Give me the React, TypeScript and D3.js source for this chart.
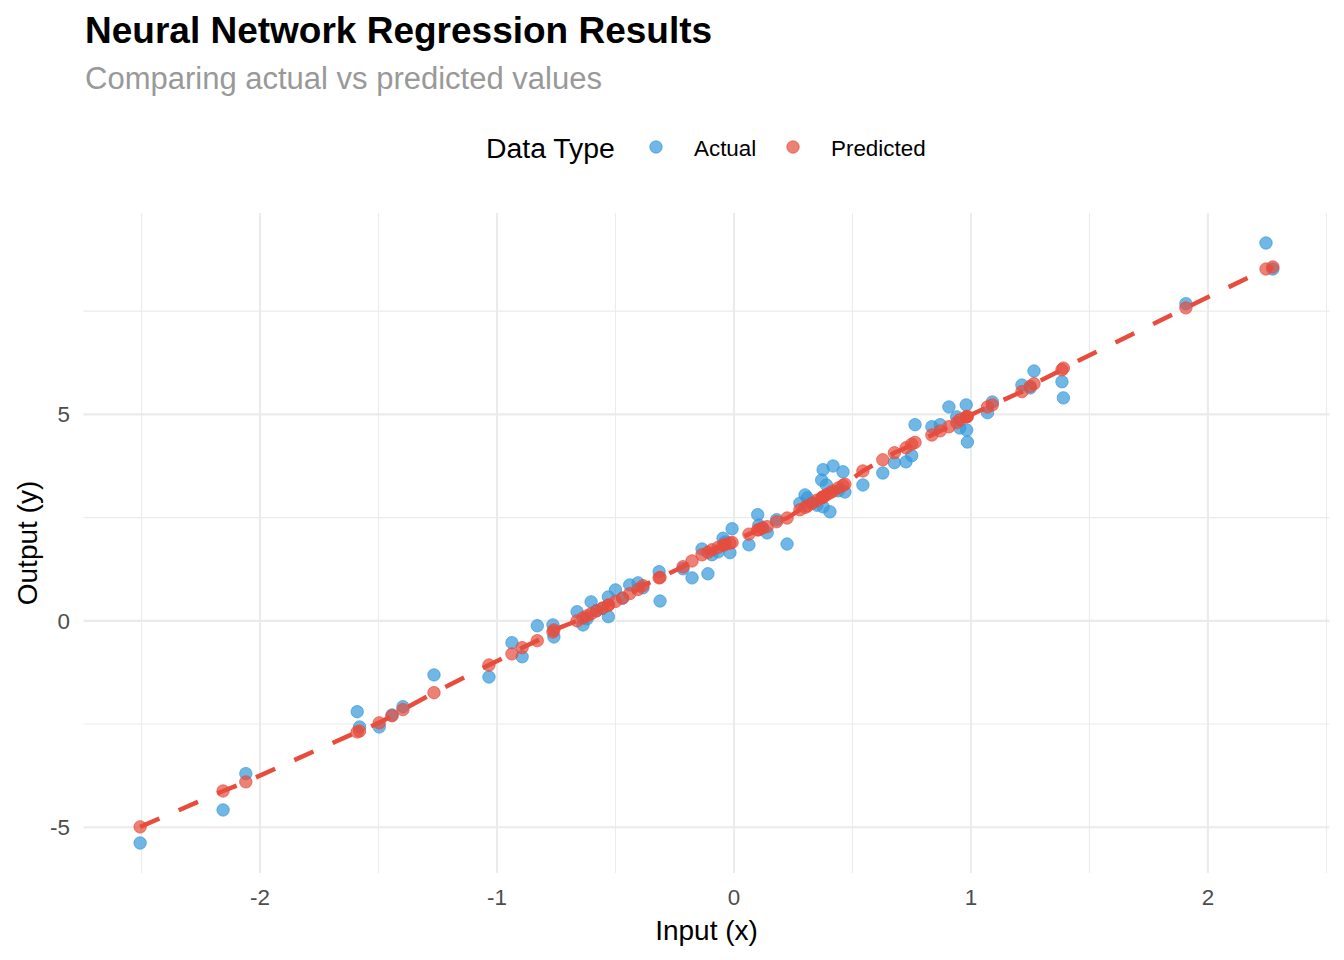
import React from 'react';
import * as d3 from 'd3';

// 入力値 (x)
const inputX = [
  -2.506, -2.156, -2.06, -1.59, -1.58, -1.497, -1.443, -1.397, -1.266, -1.034,
  -0.937, -0.894, -0.83, -0.764, -0.76, -0.662, -0.637, -0.62, -0.603, -0.58,
  -0.555, -0.53, -0.53, -0.5, -0.47, -0.44, -0.405, -0.384, -0.316, -0.312,
  -0.215, -0.177, -0.135, -0.11, -0.093, -0.067, -0.046, -0.038, -0.017, -0.008,
  0.063, 0.1, 0.105, 0.12, 0.14, 0.18, 0.224, 0.278, 0.3, 0.31,
  0.33, 0.35, 0.37, 0.376, 0.376, 0.39, 0.405, 0.418, 0.44, 0.46,
  0.468, 0.544, 0.628, 0.677, 0.726, 0.75, 0.764, 0.835, 0.87, 0.907,
  0.94, 0.953, 0.98, 0.982, 0.985, 1.07, 1.09, 1.215, 1.25, 1.266,
  1.384, 1.39, 1.907, 2.245, 2.274,
];

// 実測値
const actualY = [
  -5.38, -4.58, -3.7, -2.2, -2.57, -2.57, -2.28, -2.08, -1.31, -1.36,
  -0.53, -0.87, -0.12, -0.1, -0.39, 0.22, -0.1, 0.05, 0.46, 0.25,
  0.3, 0.58, 0.1, 0.75, 0.55, 0.87, 0.92, 0.8, 1.19, 0.48,
  1.26, 1.04, 1.74, 1.14, 1.6, 1.67, 2.0, 1.91, 1.65, 2.23,
  1.84, 2.57, 2.32, 2.25, 2.13, 2.45, 1.86, 2.85, 3.05, 2.98,
  2.85, 2.8, 3.41, 2.76, 3.66, 3.29, 2.64, 3.75, 3.15, 3.61,
  3.12, 3.29, 3.58, 3.83, 3.85, 4.0, 4.75, 4.7, 4.75, 5.18,
  4.94, 4.67, 5.23, 4.62, 4.33, 5.04, 5.3, 5.71, 5.64, 6.05,
  5.79, 5.4, 7.68, 9.15, 8.52,
];

// 予測値
const predictedY = [
  -4.99, -4.12, -3.9, -2.69, -2.67, -2.47, -2.3, -2.15, -1.74, -1.07,
  -0.8, -0.65, -0.48, -0.27, -0.22, 0.0, 0.07, 0.12, 0.17, 0.24,
  0.31, 0.38, 0.38, 0.47, 0.55, 0.66, 0.76, 0.85, 1.04, 1.05,
  1.31, 1.45, 1.6, 1.66, 1.72, 1.78, 1.83, 1.85, 1.88, 1.9,
  2.1, 2.2, 2.21, 2.25, 2.28, 2.4, 2.49, 2.69, 2.75, 2.78,
  2.85, 2.92, 2.98, 3.0, 3.0, 3.05, 3.1, 3.14, 3.22, 3.28,
  3.31, 3.63, 3.9, 4.07, 4.19, 4.28, 4.32, 4.5, 4.6, 4.7,
  4.8, 4.87, 4.94, 4.94, 4.95, 5.18, 5.23, 5.55, 5.68, 5.74,
  6.08, 6.12, 7.58, 8.52, 8.57,
];

const xMajorTicks = [-2, -1, 0, 1, 2];
const xMinorTicks = [-2.5, -1.5, -0.5, 0.5, 1.5, 2.5];
const yMajorTicks = [-5, 0, 5];
const yMinorTicks = [-2.5, 2.5, 7.5];

const seriesNames = ['Actual', 'Predicted'];
const seriesColors = ['#3498db', '#e74c3c'];

interface Point {
  x: number;
  y: number;
}

const W = 1344;
const H = 960;
const FONT = '"Liberation Sans", Arial, Helvetica, sans-serif';

// ggplot風の5%拡張
const expand = (ext: [number, number]): [number, number] => {
  const pad = (ext[1] - ext[0]) * 0.05;
  return [ext[0] - pad, ext[1] + pad];
};

const App: React.FC = () => {
  const panel = { left: 83.5, right: 1329.5, top: 213, bottom: 873 };

  const actual: Point[] = inputX.map((x, i) => ({ x, y: actualY[i] }));
  const predicted: Point[] = inputX.map((x, i) => ({ x, y: predictedY[i] }));

  const xScale = d3.scaleLinear()
    .domain(expand(d3.extent(inputX) as [number, number]))
    .range([panel.left, panel.right]);

  const yExt = d3.extent([...actualY, ...predictedY]) as [number, number];
  const yScale = d3.scaleLinear()
    .domain(expand(yExt))
    .range([panel.bottom, panel.top]);

  const line = d3.line<Point>()
    .x(d => xScale(d.x))
    .y(d => yScale(d.y));

  const sortedPred = [...predicted].sort((a, b) => a.x - b.x);

  const gridColor = '#ebebeb';
  const r = 6.2;

  return (
    <svg width={W} height={H} style={{ position: 'absolute', left: 0, top: 0, background: '#fff' }}
      fontFamily={FONT}>
      {/* タイトル */}
      <text x={85} y={43} fontSize={37} fontWeight="bold" fill="#000">
        Neural Network Regression Results
      </text>
      <text x={85} y={89} fontSize={31} fill="#999999">
        Comparing actual vs predicted values
      </text>

      {/* 凡例 */}
      <text x={486} y={158} fontSize={28.4} fill="#000">Data Type</text>
      {seriesNames.map((name, i) => (
        <g key={name} transform={`translate(${656 + i * 137},147)`}>
          <circle r={r} fill={seriesColors[i]} fillOpacity={0.7}
            stroke={seriesColors[i]} strokeOpacity={0.7} strokeWidth={1} />
          <text x={38} y={9} fontSize={22.4} fill="#000">{name}</text>
        </g>
      ))}

      {/* グリッド */}
      <g>
        {xMinorTicks.map(t => (
          <line key={`xm${t}`} x1={xScale(t)} x2={xScale(t)} y1={panel.top} y2={panel.bottom}
            stroke={gridColor} strokeWidth={1.1} />
        ))}
        {yMinorTicks.map(t => (
          <line key={`ym${t}`} x1={panel.left} x2={panel.right} y1={yScale(t)} y2={yScale(t)}
            stroke={gridColor} strokeWidth={1.1} />
        ))}
        {xMajorTicks.map(t => (
          <line key={`xM${t}`} x1={xScale(t)} x2={xScale(t)} y1={panel.top} y2={panel.bottom}
            stroke={gridColor} strokeWidth={2.1} />
        ))}
        {yMajorTicks.map(t => (
          <line key={`yM${t}`} x1={panel.left} x2={panel.right} y1={yScale(t)} y2={yScale(t)}
            stroke={gridColor} strokeWidth={2.1} />
        ))}
      </g>

      {/* 点 */}
      {[actual, predicted].map((pts, s) => (
        <g key={seriesNames[s]}>
          {pts.map((d, i) => (
            <circle key={i} cx={xScale(d.x)} cy={yScale(d.y)} r={r}
              fill={seriesColors[s]} fillOpacity={0.7}
              stroke={seriesColors[s]} strokeOpacity={0.7} strokeWidth={1} />
          ))}
        </g>
      ))}

      {/* 予測の破線 */}
      <path d={line(sortedPred) ?? ''} fill="none" stroke="#e74c3c" strokeWidth={4.5}
        strokeDasharray="21 21" />

      {/* 軸ラベル */}
      {xMajorTicks.map(t => (
        <text key={`xl${t}`} x={xScale(t)} y={905} fontSize={22.4} fill="#4d4d4d" textAnchor="middle">
          {t}
        </text>
      ))}
      {yMajorTicks.map(t => (
        <text key={`yl${t}`} x={70} y={yScale(t) + 8} fontSize={22.4} fill="#4d4d4d" textAnchor="end">
          {t}
        </text>
      ))}

      <text x={(panel.left + panel.right) / 2} y={940} fontSize={28} fill="#000" textAnchor="middle">
        Input (x)
      </text>
      <text transform={`translate(37,${(panel.top + panel.bottom) / 2}) rotate(-90)`}
        fontSize={28} fill="#000" textAnchor="middle">
        Output (y)
      </text>
    </svg>
  );
};

export default App;
